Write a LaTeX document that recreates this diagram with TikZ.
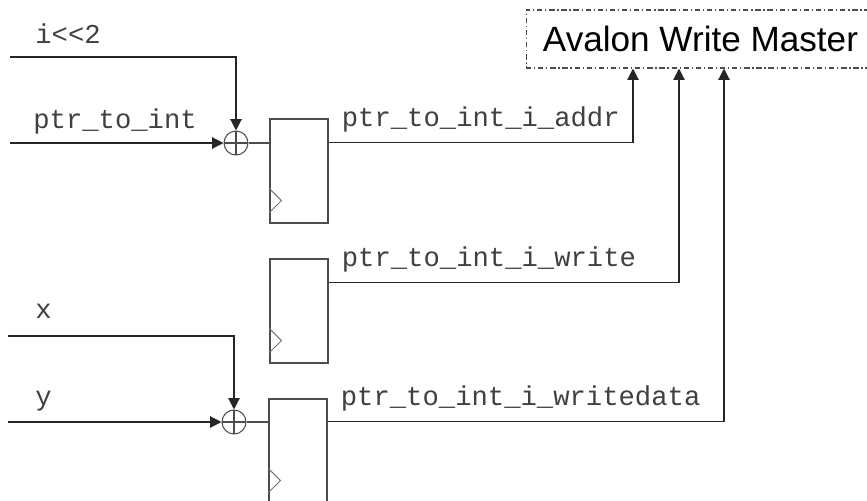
\documentclass[tikz,border=0pt]{standalone}
\usepackage{fontspec}
\setmonofont{Liberation Mono}
\setsansfont{Liberation Sans}
\usepackage{tikz}
\usetikzlibrary{arrows.meta, calc, positioning}
\tikzstyle{reg} = [rectangle, draw=black!70, line width=0.6pt,
    minimum width=1.16cm, minimum height=2.08cm, inner sep=0pt]
\tikzstyle{adder} = [circle, draw=black!70, line width=0.6pt, minimum size=0.48cm, inner sep=0pt,
    path picture={\draw[black!70, line width=0.6pt] (path picture bounding box.north) -- (path picture bounding box.south)
      (path picture bounding box.west) -- (path picture bounding box.east);}]
\tikzstyle{line} = [draw, black!85, line width=0.7pt, -{Triangle[length=6.5pt, width=6.5pt]}]
\tikzstyle{wire} = [draw, black!70, line width=0.6pt]
\tikzstyle{sig} = [font=\fontsize{15.5}{18}\selectfont\ttfamily, text=black!75, inner sep=0pt, anchor=base west]
\tikzstyle{bus} = [rectangle, draw=black!70, line width=0.6pt,
    dash pattern=on 3pt off 1.6pt on 0.7pt off 1.6pt,
    minimum width=6.98cm, minimum height=1.16cm, font=\fontsize{20}{24}\selectfont\sffamily]
\begin{document}
\begin{tikzpicture}[x=0.02cm, y=-0.02cm]
      \useasboundingbox (0,0) rectangle (867,501);
      % Avalon master
      \node [bus] (master) at (700.5,39) {Avalon Write Master};
      % Adders and registers
      \node [adder] (add1) at (236,143) {};
      \node [adder] (add2) at (234,422) {};
      \node [reg] (reg1) at (299,171) {};
      \node [reg] (reg2) at (299,311) {};
      \node [reg] (reg3) at (298,451) {};
      \foreach \r in {reg1,reg2,reg3}
        \draw [black!55, line width=0.6pt] ($(\r.south west)+(0,-35)$) -- ++(12,12) -- ++(-12,12);
      % Inputs
      \coordinate (in-shift) at (10,57);
      \coordinate (in-ptr) at (10,143);
      \coordinate (in-x) at (8,336);
      \coordinate (in-y) at (8,422);
      \node [sig] (lbl-shift) at (35,43) {i<<2};
      \node [sig] (lbl-ptr) at (33,128) {ptr\_to\_int};
      \node [sig] (lbl-x) at (35,318) {x};
      \node [sig] (lbl-y) at (35,405) {y};
      % Outputs
      \coordinate (q1) at ($(reg1.north east)+(0,24)$);
      \coordinate (q2) at ($(reg2.north east)+(0,24)$);
      \coordinate (q3) at ($(reg3.north east)+(0,23)$);
      \node [sig] (lbl-addr) at ($(q1)+(13,-16)$) {ptr\_to\_int\_i\_addr};
      \node [sig] (lbl-write) at ($(q2)+(13,-16)$) {ptr\_to\_int\_i\_write};
      \node [sig] (lbl-data) at ($(q3)+(13,-16)$) {ptr\_to\_int\_i\_writedata};
      % Draw edges
      \path [line] (in-shift) -| (add1);
      \path [line] (in-ptr) -- (add1);
      \path [line] (in-x) -| (add2);
      \path [line] (in-y) -- (add2);
      \path [wire] (add1) -- (add1 -| reg1.west);
      \path [wire] (add2) -- (add2 -| reg3.west);
      \path [line] (q1) -| ($(master.south)+(-67.5,0)$);
      \path [line] (q2) -| ($(master.south)+(-21.5,0)$);
      \path [line] (q3) -| ($(master.south)+(23.5,0)$);
  \end{tikzpicture}
\end{document}
